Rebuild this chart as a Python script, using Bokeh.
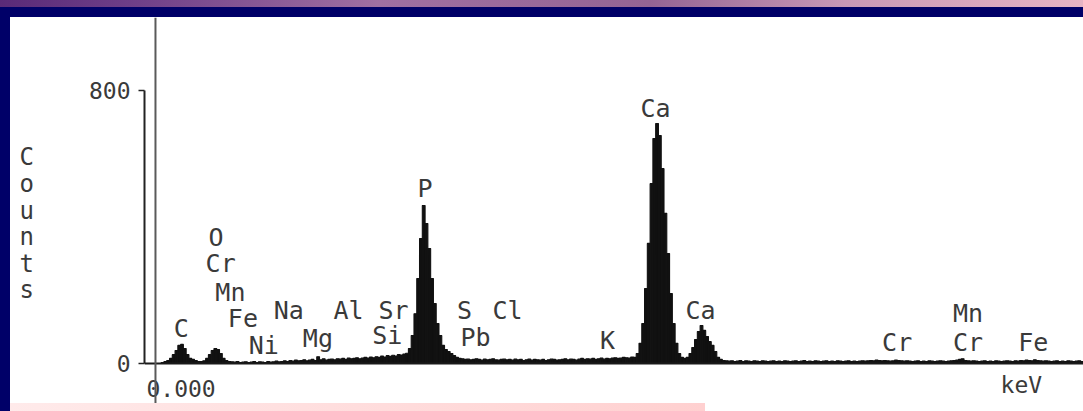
from bokeh.plotting import figure
from bokeh.models import Range1d, FixedTicker, Span, ColumnDataSource, Div
from bokeh.layouts import column, row
from bokeh.core.properties import value
from bokeh.embed import file_html
from bokeh.resources import INLINE

# ---- data: EDS spectrum, 0.02 keV channels, counts ----
CHANNEL_KEV = 0.02
counts = [
    0, 0, 0, 0, 0, 0, 3, 6, 9, 15,            # 0.00-0.20 keV
    26, 38, 53, 56, 44, 26, 15, 12, 9, 6,      # C
    6, 8, 15, 26, 38, 44, 41, 29, 15, 9,       # O
    6, 5, 4, 6, 3, 4, 5, 3, 4, 6,
    3, 5, 4, 3, 6, 4, 5, 7, 5, 6,
    8, 6, 9, 7, 10, 8, 9, 11, 8, 10,
    12, 9, 20, 11, 14, 10, 12, 13, 11, 14,     # Mg
    13, 15, 12, 16, 14, 15, 17, 14, 16, 18,
    16, 19, 17, 20, 18, 22, 19, 23, 21, 24,    # Si
    22, 26, 25, 28, 30, 44, 82, 146, 249, 366,
    463, 410, 337, 249, 176, 117, 82, 53, 41, 35,   # P
    29, 23, 18, 15, 14, 12, 13, 11, 12, 14,
    12, 10, 13, 11, 12, 14, 11, 10, 12, 13,
    11, 12, 10, 13, 11, 12, 9, 11, 13, 10,
    12, 11, 10, 12, 9, 11, 13, 12, 10, 11,
    12, 14, 11, 13, 12, 10, 13, 15, 12, 14,
    13, 15, 12, 14, 16, 13, 15, 14, 16, 17,    # K
    15, 16, 18, 17, 16, 19, 18, 29, 59, 117,
    220, 352, 527, 659, 703, 668, 571, 440, 322, 205,   # Ca Ka
    117, 59, 29, 18, 15, 18, 29, 47, 70, 94,
    111, 97, 79, 64, 53, 35, 18, 12, 9, 8,     # Ca Kb
    7, 8, 6, 7, 9, 6, 8, 7, 6, 8,
    7, 6, 8, 7, 6, 7, 8, 6, 7, 6,
    8, 7, 6, 7, 8, 6, 7, 9, 6, 7,
    6, 8, 7, 6, 7, 8, 6, 7, 6, 8,
    7, 6, 7, 8, 6, 7, 6, 7, 8, 7,
    8, 9, 8, 10, 9, 8, 9, 8, 7, 8,
    10, 9, 8, 7, 8, 7, 6, 7, 8, 6,             # Cr
    7, 6, 8, 7, 6, 7, 8, 7, 6, 7,
    8, 9, 10, 12, 14, 9, 8, 7, 8, 7,           # Mn
    6, 7, 8, 6, 7, 6, 8, 7, 6, 7,
    8, 7, 6, 8, 7, 9, 8, 10, 9, 8,
    11, 9, 8, 7, 8, 7, 6, 7, 8, 6,             # Fe
    7, 6, 8, 7, 6, 7, 8, 6,
]
energy = [CHANNEL_KEV * (i + 0.5) for i in range(len(counts))]

# element labels: text, keV (left edge), counts (text anchor)
label_text = ["C", "O", "Cr", "Mn", "Fe", "Ni", "Na", "Mg", "Al", "Sr", "Si",
              "P", "S", "Cl", "Pb", "K", "Ca", "Ca", "Cr", "Mn", "Cr", "Fe"]
label_kev = [0.21, 0.46, 0.44, 0.51, 0.60, 0.75, 0.93, 1.14, 1.36, 1.685, 1.64,
             1.965, 2.25, 2.505, 2.275, 3.28, 3.57, 3.895, 5.31, 5.82, 5.82, 6.29]
label_cts = [102, 369, 293, 208, 132, 52, 155, 73, 155, 155, 82,
             512, 155, 155, 76, 67, 748, 155, 61, 146, 61, 61]

y_ticks = [0, 800]
x_tick_text = "0.000"
x_unit_text = "keV"
CURSOR_KEV = 0.079

X_RANGE = (0.0, 6.76)
Y_RANGE = (-117.2, 1013.9)

FONT = "DejaVu Sans Mono"
TXT = "#3a3a3a"
NAVY = "#000068"

p = figure(width=1073, height=386, x_range=Range1d(*X_RANGE), y_range=Range1d(*Y_RANGE),
           output_backend="svg", toolbar_location=None, min_border=0, min_border_left=134)
p.min_border_top = 0
p.min_border_right = 0
p.min_border_bottom = 0
p.background_fill_color = "white"
p.border_fill_color = "white"
p.outline_line_color = None
p.grid.visible = False
p.xaxis.visible = False

ya = p.yaxis[0]
ya.ticker = FixedTicker(ticks=y_ticks)
ya.bounds = (0, 800)
ya.axis_line_color = "#222222"
ya.axis_line_width = 2
ya.major_tick_out = 6
ya.major_tick_in = 0
ya.major_tick_line_color = "#222222"
ya.major_tick_line_width = 1.5
ya.minor_tick_line_color = None
ya.major_label_standoff = 8
ya.major_label_text_font = FONT
ya.major_label_text_font_size = "23px"
ya.major_label_text_color = TXT
ya.axis_label = "\nC\no\nu\nn\nt\ns"
ya.axis_label_orientation = "horizontal"
ya.axis_label_text_font = FONT
ya.axis_label_text_font_size = "24px"
ya.axis_label_text_font_style = "normal"
ya.axis_label_text_color = TXT
ya.axis_label_text_line_height = 0.95
ya.axis_label_standoff = 52

src = ColumnDataSource(dict(energy=energy, counts=counts))
p.vbar(x="energy", top="counts", bottom=0, width=CHANNEL_KEV, source=src,
       fill_color="#111111", line_color="#111111", line_width=1.1)

p.add_layout(Span(location=0, dimension="width", line_color="#1a1a1a", line_width=2))
p.add_layout(Span(location=CURSOR_KEV, dimension="height", line_color="#5a5a5a", line_width=2))

lsrc = ColumnDataSource(dict(x=label_kev, y=label_cts, t=label_text))
p.text(x="x", y="y", text="t", source=lsrc, text_font=value(FONT), text_font_size="25px",
       text_color=TXT, text_align="left", text_baseline="alphabetic")

p.text(x=[0.014], y=[-74], text=[x_tick_text], text_font=value(FONT), text_font_size="23px",
       text_color=TXT, text_align="left", text_baseline="alphabetic")
p.text(x=[6.163], y=[-64], text=[x_unit_text], text_font=value(FONT), text_font_size="23px",
       text_color=TXT, text_align="left", text_baseline="alphabetic")

# slide frame around the scanned spectrum
top_band = Div(text="", width=1083, height=7, margin=0,
               styles={"background": "linear-gradient(to right, #5a2a78, #6e3e88 12%, #a070a2 35%, "
                                     "#946494 60%, #c898b6 78%, #e6b4c4)"})
navy_band = Div(text="", width=1083, height=10, margin=0, styles={"background-color": NAVY})
left_band = Div(text="", width=10, height=394, margin=0, styles={"background-color": NAVY})
pink_band = Div(text="", width=695, height=8, margin=0,
                styles={"background": "linear-gradient(to right, #ffeaea, #ffd0d0)"})

layout = column(top_band, navy_band,
                row(left_band, column(p, pink_band, spacing=0), spacing=0),
                spacing=0)

open("out.html", "w").write(file_html(layout, INLINE))
